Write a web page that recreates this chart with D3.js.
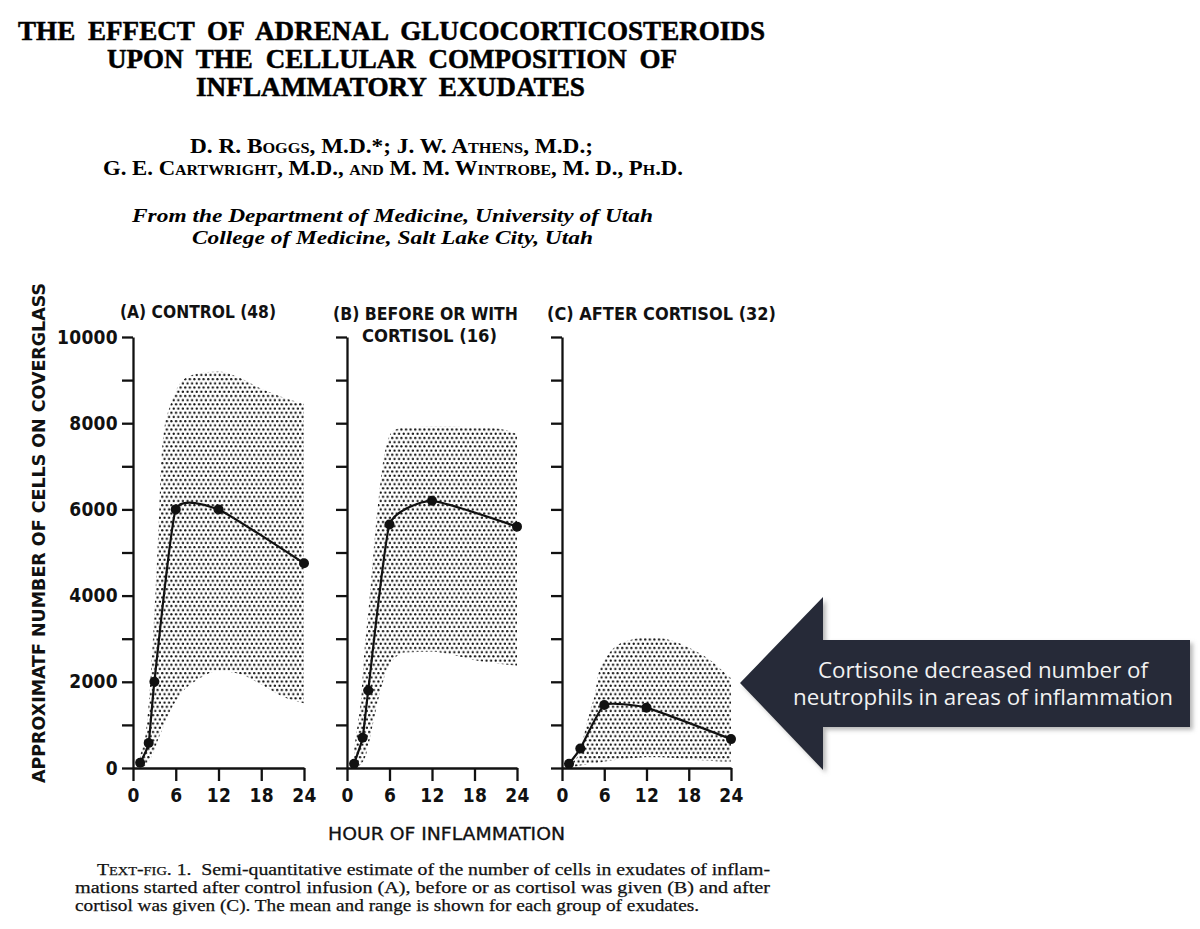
<!DOCTYPE html>
<html>
<head>
<meta charset="utf-8">
<script src="https://cdnjs.cloudflare.com/ajax/libs/d3/7.8.5/d3.min.js"></script>
<style>
body { margin: 0; background: #fff; }
</style>
</head>
<body>
<div id="figure"></div>
<script>
// values (cells per coverglass vs hour)
var hourTicks = [0, 6, 12, 18, 24];
var cellTicks = [0, 1000, 2000, 3000, 4000, 5000, 6000, 7000, 8000, 9000, 10000];
var cellLabels = [0, 2000, 4000, 6000, 8000, 10000];

var panelTitles = [
    ["(A) CONTROL (48)"],
    ["(B) BEFORE OR WITH", "CORTISOL (16)"],
    ["(C) AFTER CORTISOL (32)"]
];

// (A) control
var controlMeanHours = [1, 2.2, 3, 6, 12, 24];
var controlMean = [120, 580, 2000, 6000, 6000, 4750];
var controlRangeHours = [1, 2, 3, 3.5, 4, 4.5, 5, 6, 7, 9, 12, 15, 18, 21, 24];
var controlRangeHigh = [300, 1100, 3600, 5300, 7200, 8000, 8300, 8750, 9000, 9150, 9200, 9050, 8800, 8600, 8450];
var controlRangeLow = [0, 100, 400, 650, 850, 1050, 1250, 1550, 1780, 2040, 2250, 2180, 1940, 1660, 1500];

// (B) before or with cortisol
var withMeanHours = [1, 2.2, 3, 6, 12, 24];
var withMean = [100, 700, 1800, 5650, 6200, 5600];
var withRangeHours = [1, 1.5, 2, 2.5, 3, 3.5, 4, 4.5, 5, 5.5, 6.5, 8, 12, 15, 18, 21, 24];
var withRangeHigh = [450, 1000, 1650, 2800, 3600, 4550, 5500, 6300, 7000, 7450, 7820, 7900, 7920, 7920, 7900, 7880, 7750];
var withRangeLow = [0, 30, 100, 220, 500, 900, 1270, 1650, 1950, 2230, 2500, 2680, 2700, 2620, 2500, 2430, 2370];

// (C) after cortisol
var afterMeanHours = [1, 2.6, 6, 12, 24];
var afterMean = [100, 450, 1460, 1400, 670];
var afterRangeHours = [1, 1.6, 2.6, 3.3, 4, 4.7, 5.1, 6.1, 7.3, 9.7, 12.5, 15.3, 18.2, 21, 22.7, 24];
var afterRangeHigh = [100, 150, 420, 880, 1340, 1730, 2120, 2510, 2780, 2970, 3040, 2970, 2780, 2510, 2270, 2080];
var afterRangeLow = [0, 20, 60, 80, 100, 110, 120, 150, 180, 220, 250, 240, 200, 170, 150, 150];

var width = 1200,
    height = 929,
    lettering = '"DejaVu Sans Condensed", "DejaVu Sans", sans-serif',
    serif = '"Liberation Serif", "DejaVu Serif", serif';

var panels = [
    { title: panelTitles[0], meanHours: controlMeanHours, mean: controlMean,
      rangeHours: controlRangeHours, high: controlRangeHigh, low: controlRangeLow,
      left: 133, right: 304, labels: true,
      titleX: [120], titleLen: [156], titleY: [318] },
    { title: panelTitles[1], meanHours: withMeanHours, mean: withMean,
      rangeHours: withRangeHours, high: withRangeHigh, low: withRangeLow,
      left: 347, right: 517, labels: false,
      titleX: [333, 362], titleLen: [185, 135], titleY: [320, 342] },
    { title: panelTitles[2], meanHours: afterMeanHours, mean: afterMean,
      rangeHours: afterRangeHours, high: afterRangeHigh, low: afterRangeLow,
      left: 562, right: 731, labels: false,
      titleX: [547], titleLen: [229], titleY: [320] }
];

var y = d3.scaleLinear()
    .domain([0, 10000])
    .range([768, 337]);

var svg = d3.select("#figure")
    .append("svg")
    .attr("width", width)
    .attr("height", height);

var defs = svg.append("defs");

// stipple used by the printer for the range of each group
var stipple = defs.append("pattern")
    .attr("id", "stipple")
    .attr("patternUnits", "userSpaceOnUse")
    .attr("width", 4.6)
    .attr("height", 8.4);
stipple.append("circle").attr("cx", 1.2).attr("cy", 1.1).attr("r", 1.15).attr("fill", "#111");
stipple.append("circle").attr("cx", 3.5).attr("cy", 5.3).attr("r", 1.15).attr("fill", "#111");

var shadow = defs.append("filter")
    .attr("id", "shadow")
    .attr("x", "-10%").attr("y", "-10%")
    .attr("width", "130%").attr("height", "130%");
shadow.append("feDropShadow")
    .attr("dx", 3).attr("dy", 3)
    .attr("stdDeviation", 2)
    .attr("flood-color", "#8a8a8a")
    .attr("flood-opacity", 0.6);

// ---- article heading ----
var heading = [
    { text: "THE EFFECT OF ADRENAL GLUCOCORTICOSTEROIDS", x: 18, len: 747, y: 40 },
    { text: "UPON THE CELLULAR COMPOSITION OF", x: 107, len: 570, y: 68 },
    { text: "INFLAMMATORY EXUDATES", x: 196, len: 389, y: 96 }
];
svg.append("g")
    .selectAll("text")
    .data(heading)
    .enter()
    .append("text")
    .attr("x", function(d) { return d.x; })
    .attr("y", function(d) { return d.y; })
    .attr("textLength", function(d) { return d.len; })
    .attr("lengthAdjust", "spacingAndGlyphs")
    .style("font-family", serif)
    .style("font-weight", "bold")
    .style("font-size", "27px")
    .style("word-spacing", "6px")
    .attr("stroke", "#000")
    .attr("stroke-width", 0.5)
    .text(function(d) { return d.text; });

var authors = [
    { text: "D. R. Boggs, M.D.*; J. W. Athens, M.D.;", x: 190, len: 403, y: 153 },
    { text: "G. E. Cartwright, M.D., and M. M. Wintrobe, M. D., Ph.D.", x: 103, len: 580, y: 175 }
];
svg.append("g")
    .selectAll("text")
    .data(authors)
    .enter()
    .append("text")
    .attr("x", function(d) { return d.x; })
    .attr("y", function(d) { return d.y; })
    .attr("textLength", function(d) { return d.len; })
    .attr("lengthAdjust", "spacingAndGlyphs")
    .style("font-family", serif)
    .style("font-weight", "bold")
    .style("font-variant", "small-caps")
    .style("font-size", "20px")
    .text(function(d) { return d.text; });

var affiliation = [
    { text: "From the Department of Medicine, University of Utah", x: 132, len: 521, y: 222 },
    { text: "College of Medicine, Salt Lake City, Utah", x: 192, len: 401, y: 244 }
];
svg.append("g")
    .selectAll("text")
    .data(affiliation)
    .enter()
    .append("text")
    .attr("x", function(d) { return d.x; })
    .attr("y", function(d) { return d.y; })
    .attr("textLength", function(d) { return d.len; })
    .attr("lengthAdjust", "spacingAndGlyphs")
    .style("font-family", serif)
    .style("font-weight", "bold")
    .style("font-style", "italic")
    .style("font-size", "19px")
    .text(function(d) { return d.text; });

// ---- the three panels ----
panels.forEach(function(p) {
    var x = d3.scaleLinear()
        .domain([0, 24])
        .range([p.left, p.right]);

    var g = svg.append("g");

    var range = p.rangeHours.map(function(h, i) {
        return { h: h, lo: p.low[i], hi: p.high[i] };
    });
    var area = d3.area()
        .x(function(d) { return x(d.h); })
        .y0(function(d) { return y(d.lo); })
        .y1(function(d) { return y(d.hi); })
        .curve(d3.curveMonotoneX);

    g.append("path")
        .datum(range)
        .attr("d", area)
        .attr("fill", "url(#stipple)");

    var yAxis = d3.axisLeft(y)
        .tickValues(cellTicks)
        .tickSize(11)
        .tickSizeOuter(0)
        .tickPadding(4)
        .tickFormat(function(d) {
            return p.labels && cellLabels.indexOf(d) >= 0 ? d : "";
        });

    var xAxis = d3.axisBottom(x)
        .tickValues(hourTicks)
        .tickSize(13)
        .tickSizeOuter(0)
        .tickPadding(8);

    var ya = g.append("g")
        .attr("transform", "translate(" + p.left + ",0)")
        .call(yAxis);
    var xa = g.append("g")
        .attr("transform", "translate(0," + y(0) + ")")
        .call(xAxis);

    [ya, xa].forEach(function(a) {
        a.selectAll("path, line")
            .attr("stroke", "#111")
            .attr("stroke-width", 2.3);
        a.selectAll("text")
            .attr("fill", "#111")
            .style("font-family", lettering)
            .style("font-weight", "bold")
            .style("font-size", "19px")
            .style("letter-spacing", "0.3px");
    });

    var means = p.meanHours.map(function(h, i) {
        return [h, p.mean[i]];
    });
    var line = d3.line()
        .x(function(d) { return x(d[0]); })
        .y(function(d) { return y(d[1]); })
        .curve(d3.curveCardinal.tension(0.55));

    g.append("path")
        .datum(means)
        .attr("d", line)
        .attr("fill", "none")
        .attr("stroke", "#111")
        .attr("stroke-width", 2.2);

    g.selectAll("circle.mean")
        .data(means)
        .enter()
        .append("circle")
        .attr("class", "mean")
        .attr("cx", function(d) { return x(d[0]); })
        .attr("cy", function(d) { return y(d[1]); })
        .attr("r", 5)
        .attr("fill", "#111");

    g.selectAll("text.title")
        .data(p.title)
        .enter()
        .append("text")
        .attr("class", "title")
        .attr("x", function(d, i) { return p.titleX[i]; })
        .attr("y", function(d, i) { return p.titleY[i]; })
        .attr("textLength", function(d, i) { return p.titleLen[i]; })
        .attr("lengthAdjust", "spacingAndGlyphs")
        .style("font-family", lettering)
        .style("font-weight", "bold")
        .style("font-size", "17px")
        .attr("fill", "#111")
        .text(function(d) { return d; });
});

svg.append("text")
    .attr("transform", "translate(45,533)rotate(-90)")
    .attr("text-anchor", "middle")
    .attr("textLength", 500)
    .attr("lengthAdjust", "spacingAndGlyphs")
    .style("font-family", lettering)
    .style("font-weight", "bold")
    .style("font-size", "17px")
    .attr("fill", "#111")
    .text("APPROXIMATF NUMBER OF CELLS ON COVERGLASS");

svg.append("text")
    .attr("x", 328)
    .attr("y", 840)
    .attr("textLength", 237)
    .attr("lengthAdjust", "spacingAndGlyphs")
    .style("font-family", lettering)
    .style("font-size", "18px")
    .attr("stroke", "#111")
    .attr("stroke-width", 0.3)
    .attr("fill", "#111")
    .text("HOUR OF INFLAMMATION");

// ---- legend text under the figure ----
var caption = [
    { lead: "Text-fig. 1.", text: "  Semi-quantitative estimate of the number of cells in exudates of inflam-", x: 97, len: 673, y: 875 },
    { lead: "", text: "mations started after control infusion (A), before or as cortisol was given (B) and after", x: 75, len: 695, y: 893 },
    { lead: "", text: "cortisol was given (C). The mean and range is shown for each group of exudates.", x: 75, len: 624, y: 911 }
];
var cap = svg.append("g")
    .selectAll("text")
    .data(caption)
    .enter()
    .append("text")
    .attr("x", function(d) { return d.x; })
    .attr("y", function(d) { return d.y; })
    .attr("textLength", function(d) { return d.len; })
    .attr("lengthAdjust", "spacingAndGlyphs")
    .style("font-family", serif)
    .style("font-size", "16.5px")
    .style("white-space", "pre")
    .attr("stroke", "#111")
    .attr("stroke-width", 0.25)
    .attr("fill", "#111");
cap.append("tspan")
    .style("font-variant", "small-caps")
    .text(function(d) { return d.lead; });
cap.append("tspan")
    .text(function(d) { return d.text; });

// ---- call-out arrow pointing at panel C ----
var tipX = 740, tipY = 683, neckX = 823,
    headTop = 597, headBottom = 770,
    bodyTop = 640, bodyBottom = 727, bodyRight = 1190;

svg.append("path")
    .attr("d", "M" + tipX + "," + tipY +
        "L" + neckX + "," + headTop +
        "L" + neckX + "," + bodyTop +
        "L" + bodyRight + "," + bodyTop +
        "L" + bodyRight + "," + bodyBottom +
        "L" + neckX + "," + bodyBottom +
        "L" + neckX + "," + headBottom + "Z")
    .attr("fill", "#262c38")
    .attr("filter", "url(#shadow)");

svg.append("g")
    .selectAll("text")
    .data([
        { text: "Cortisone decreased number of", len: 330 },
        { text: "neutrophils in areas of inflammation", len: 380 }
    ])
    .enter()
    .append("text")
    .attr("x", 983)
    .attr("y", function(d, i) { return 678 + i * 27; })
    .attr("text-anchor", "middle")
    .attr("textLength", function(d) { return d.len; })
    .attr("lengthAdjust", "spacingAndGlyphs")
    .style("font-family", '"Open Sans", sans-serif')
    .style("font-size", "21px")
    .attr("fill", "#f2f2f2")
    .text(function(d) { return d.text; });
</script>
</body>
</html>
